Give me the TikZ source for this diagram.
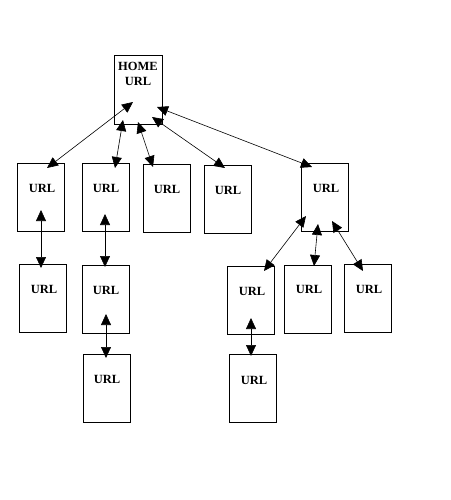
\documentclass[tikz,border=0pt]{standalone}
\usepackage{fontspec}
\setmainfont{Liberation Serif}
\usetikzlibrary{arrows.meta}
\tikzset{
  page/.style={draw, line width=0.9pt, minimum width=47pt, minimum height=68pt, inner sep=0pt, anchor=north west},
  lbl/.style={font=\fontsize{12.5}{13}\selectfont\bfseries, inner sep=0pt},
  link/.style={line width=0.6pt, {Triangle[length=11pt,width=10pt]}-{Triangle[length=11pt,width=10pt]}}
}
\begin{document}
\begin{tikzpicture}[x=1pt,y=-1pt]
\useasboundingbox (0,0) rectangle (450,500);
% boxes
\node[page, minimum width=48pt, minimum height=69pt] (home) at (114,55) {};
\node[page] (a1) at (17,163) {};
\node[page] (a2) at (82,163) {};
\node[page] (a3) at (143,164) {};
\node[page] (a4) at (204,165) {};
\node[page] (a5) at (301,163) {};
\node[page] (b1) at (19,264) {};
\node[page] (b2) at (82,265) {};
\node[page] (c1) at (227,266) {};
\node[page] (c2) at (284,265) {};
\node[page] (c3) at (344,264) {};
\node[page] (d1) at (83,354) {};
\node[page] (e1) at (229,354) {};
% labels
\node[lbl] (homet) at (138,66) {HOME};
\node[lbl] (homeu) at (138,81) {URL};
\node[lbl] (a1t) at (42,188) {URL};
\node[lbl] (a2t) at (106,188) {URL};
\node[lbl] (a3t) at (167,189) {URL};
\node[lbl] (a4t) at (228,190) {URL};
\node[lbl] (a5t) at (326,188) {URL};
\node[lbl] (b1t) at (44,289) {URL};
\node[lbl] (b2t) at (106,290) {URL};
\node[lbl] (c1t) at (252,291) {URL};
\node[lbl] (c2t) at (309,289) {URL};
\node[lbl] (c3t) at (369,289) {URL};
\node[lbl] (d1t) at (107,379) {URL};
\node[lbl] (e1t) at (254,380) {URL};
% connector ends
\coordinate (h1) at (133,102);
\coordinate (h2) at (123,120);
\coordinate (h3) at (138,122);
\coordinate (h4) at (152,117);
\coordinate (h5) at (157,107);
\coordinate (a1i) at (47,168);
\coordinate (a2i) at (115,168);
\coordinate (a3i) at (153,167);
\coordinate (a4i) at (225,168);
\coordinate (a5i) at (312,167);
\coordinate (a1o) at (41,210);
\coordinate (b1i) at (41,268);
\coordinate (a2o) at (105,214);
\coordinate (b2i) at (105,267);
\coordinate (b2o) at (106,314);
\coordinate (d1i) at (106,358);
\coordinate (a5o1) at (306,216);
\coordinate (a5o2) at (318,224);
\coordinate (a5o3) at (332,221);
\coordinate (c1i) at (264,271);
\coordinate (c2i) at (314,266);
\coordinate (c3i) at (363,271);
\coordinate (c1o) at (251,318);
\coordinate (e1i) at (251,356);
% connectors
\draw[link] (h1) -- (a1i);
\draw[link] (h2) -- (a2i);
\draw[link] (h3) -- (a3i);
\draw[link] (h4) -- (a4i);
\draw[link] (h5) -- (a5i);
\draw[link] (a1o) -- (b1i);
\draw[link] (a2o) -- (b2i);
\draw[link] (b2o) -- (d1i);
\draw[link] (a5o1) -- (c1i);
\draw[link] (a5o2) -- (c2i);
\draw[link] (a5o3) -- (c3i);
\draw[link] (c1o) -- (e1i);
\end{tikzpicture}
\end{document}
